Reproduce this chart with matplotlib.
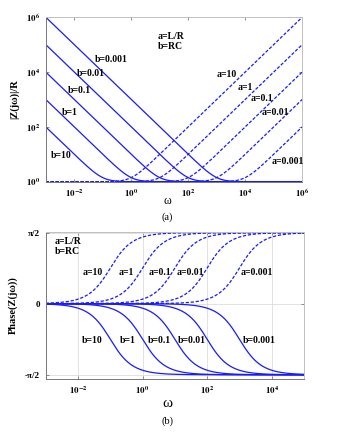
import numpy as np
import matplotlib
matplotlib.use("Agg")
import matplotlib.pyplot as plt
from matplotlib.ticker import FixedLocator, NullLocator

plt.rcParams['font.family'] = ['Liberation Serif', 'DejaVu Serif']
plt.rcParams['mathtext.fontset'] = 'stix'

# time constants
a_vals = [10, 1, 0.1, 0.01, 0.001]    # a = L/R
b_vals = [10, 1, 0.1, 0.01, 0.001]    # b = RC
a_labels = ['a=10', 'a=1', 'a=0.1', 'a=0.01', 'a=0.001']
b_labels = ['b=10', 'b=1', 'b=0.1', 'b=0.01', 'b=0.001']

mag_xticks = [1e-2, 1e0, 1e2, 1e4, 1e6]
mag_xticklabels = ['$\\mathbf{10^{-2}}$', '$\\mathbf{10^{0}}$', '$\\mathbf{10^{2}}$',
                   '$\\mathbf{10^{4}}$', '$\\mathbf{10^{6}}$']
mag_yticks = [1e0, 1e2, 1e4, 1e6]
mag_yticklabels = ['$\\mathbf{10^{0}}$', '$\\mathbf{10^{2}}$', '$\\mathbf{10^{4}}$',
                   '$\\mathbf{10^{6}}$']
ph_xticks = [1e-2, 1e0, 1e2, 1e4]
ph_xticklabels = ['$\\mathbf{10^{-2}}$', '$\\mathbf{10^{0}}$', '$\\mathbf{10^{2}}$',
                  '$\\mathbf{10^{4}}$']
ph_yticks = [-np.pi / 2, 0, np.pi / 2]
ph_yticklabels = ['-\u03c0/2', '0', '\u03c0/2']

w_mag = np.logspace(-3, 6, 800)
w_ph = np.logspace(-3, 5, 800)

blue = '#1a1aff'
lw = 0.9
dash = (0, (2.6, 1.4))


def style_axes(ax):
    ax.tick_params(direction='in', length=2.5, width=0.5, top=True, right=True,
                   labelsize=6.5, pad=4, colors='#666666', labelcolor='black')
    ax.xaxis.set_minor_locator(NullLocator())
    ax.yaxis.set_minor_locator(NullLocator())
    for lbl in ax.get_yticklabels():
        lbl.set_fontweight('bold')
    for side in ['left', 'bottom']:
        ax.spines[side].set_color('#777777')
        ax.spines[side].set_linewidth(0.7)
    for side in ['top', 'right']:
        ax.spines[side].set_color('#c0c0c0')
        ax.spines[side].set_linewidth(0.7)


fig = plt.figure(figsize=(3.49, 4.40), dpi=100)

# (a) magnitude
ax1 = fig.add_axes([0.131, 0.587, 0.735, 0.374])
for b in b_vals:
    ax1.loglog(w_mag, np.hypot(1, 1 / (b * w_mag)), color=blue, lw=lw)
for a in a_vals:
    # inductive branch, corner at 10/a
    ax1.loglog(w_mag, np.hypot(1, a * w_mag / 10), color=blue, lw=lw, linestyle=dash)
ax1.set_xlim(1e-3, 1e6)
ax1.set_ylim(1e0, 1e6)
ax1.xaxis.set_major_locator(FixedLocator(mag_xticks))
ax1.set_xticklabels(mag_xticklabels)
ax1.yaxis.set_major_locator(FixedLocator(mag_yticks))
ax1.set_yticklabels(mag_yticklabels)
style_axes(ax1)
ax1.set_ylabel('|Z(j\u03c9)|/R', fontsize=7.5, fontweight='bold', labelpad=5)

tk = dict(transform=ax1.transAxes, fontsize=7, fontweight='bold', va='center', ha='left')
ax1.text(0.438, 0.91, 'a=L/R\nb=RC', transform=ax1.transAxes, fontsize=7,
         fontweight='bold', va='top', ha='left', linespacing=1.1)
b_pos = [(0.019, 0.158), (0.062, 0.422), (0.086, 0.553), (0.122, 0.655), (0.192, 0.740)]
for lab, (x, y) in zip(b_labels, b_pos):
    ax1.text(x, y, lab, **tk)
a_pos = [(0.668, 0.649), (0.749, 0.574), (0.800, 0.503), (0.843, 0.420), (0.882, 0.124)]
for lab, (x, y) in zip(a_labels, a_pos):
    ax1.text(x, y, lab, **tk)

fig.text(0.48, 1 - 201 / 440, '\u03c9', fontsize=8.5, ha='center', va='center')
fig.text(0.48, 1 - 217 / 440, '(a)', fontsize=7.5, ha='center', va='center')

# (b) phase
ax2 = fig.add_axes([0.131, 0.138, 0.740, 0.3355])
for a in a_vals:
    ax2.semilogx(w_ph, np.arctan(a * w_ph), color=blue, lw=lw, linestyle=dash)
for b in b_vals:
    ax2.semilogx(w_ph, -np.arctan(b * w_ph), color=blue, lw=lw)
ax2.set_xlim(1e-3, 1e5)
ax2.set_ylim(-np.pi / 2 - 0.1, np.pi / 2 + 0.02)
ax2.xaxis.set_major_locator(FixedLocator(ph_xticks))
ax2.set_xticklabels(ph_xticklabels)
ax2.yaxis.set_major_locator(FixedLocator(ph_yticks))
ax2.set_yticklabels(ph_yticklabels)
style_axes(ax2)
ax2.grid(True, color='#dddddd', lw=0.6)
ax2.set_axisbelow(True)
ax2.set_ylabel('Phase(Z(j\u03c9))', fontsize=7.5, fontweight='bold', labelpad=5)

tk2 = dict(transform=ax2.transAxes, fontsize=7, fontweight='bold', va='center', ha='left')
ax2.text(0.036, 0.965, 'a=L/R\nb=RC', transform=ax2.transAxes, fontsize=7,
         fontweight='bold', va='top', ha='left', linespacing=1.1)
a_pos2 = [(0.143, 0.722), (0.284, 0.722), (0.397, 0.722), (0.507, 0.722), (0.755, 0.722)]
for lab, (x, y) in zip(a_labels, a_pos2):
    ax2.text(x, y, lab, **tk2)
b_pos2 = [(0.139, 0.262), (0.288, 0.262), (0.397, 0.262), (0.513, 0.262), (0.763, 0.262)]
for lab, (x, y) in zip(b_labels, b_pos2):
    ax2.text(x, y, lab, **tk2)

fig.text(0.48, 1 - 403 / 440, '\u03c9', fontsize=11, ha='center', va='center')
fig.text(0.48, 1 - 421 / 440, '(b)', fontsize=7.5, ha='center', va='center')

fig.savefig('out.png', dpi=100)
